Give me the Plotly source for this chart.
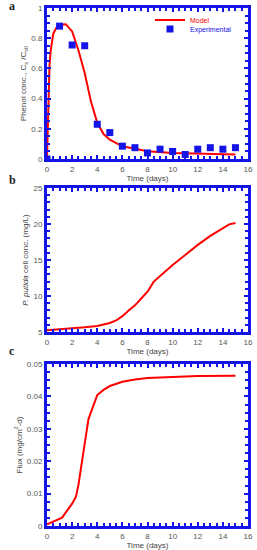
import plotly.graph_objects as go

# Panel a: phenol concentration
exp_t = [0, 1, 2, 3, 4, 5, 6, 7, 8, 9, 10, 11, 12, 13, 14, 15]
exp_c = [0.0, 0.88, 0.755, 0.75, 0.23, 0.175, 0.085, 0.075, 0.04, 0.065, 0.05, 0.03, 0.065, 0.075, 0.065, 0.075]
mod_t = [0, 0.1, 0.2, 0.3, 0.5, 0.75, 1, 1.5, 2, 2.5, 3, 3.5, 4, 4.5, 5, 6, 7, 8, 10, 12, 15]
mod_c = [0.0, 0.39, 0.62, 0.72, 0.83, 0.87, 0.89, 0.893, 0.845, 0.72, 0.57, 0.38, 0.24, 0.165, 0.128, 0.084, 0.066, 0.052, 0.04, 0.035, 0.029]

# Panel b: P. putida cell concentration
cell_t = [0, 2, 3, 4, 5, 5.5, 6, 6.5, 7, 7.5, 8, 8.5, 9, 10, 11, 12, 13, 14, 14.5, 15]
cell_c = [5.23, 5.47, 5.65, 5.84, 6.25, 6.6, 7.2, 8.0, 8.7, 9.65, 10.6, 12.0, 12.8, 14.3, 15.7, 17.1, 18.35, 19.5, 19.95, 20.15]

# Panel c: flux
flux_t = [0, 1.2, 2, 2.3, 2.5, 3, 3.3, 4, 4.5, 5, 6, 7, 8, 10, 12, 15]
flux_v = [0.0005, 0.0026, 0.0069, 0.009, 0.0126, 0.025, 0.033, 0.0404, 0.042, 0.0432, 0.0445, 0.0452, 0.0457, 0.046, 0.0463, 0.0464]

BLUE = "#1414e6"
RED = "#ff0000"
W, H = 257, 550

fig = go.Figure()
fig.add_trace(go.Scatter(x=mod_t, y=mod_c, mode="lines", line=dict(color=RED, width=2),
                         name="<span style='color:#ff0000'>Model</span>", xaxis="x", yaxis="y",
                         legend="legend"))
fig.add_trace(go.Scatter(x=exp_t, y=exp_c, mode="markers",
                         marker=dict(symbol="square", size=7, color=BLUE),
                         name="<span style='color:#1414e6'>Experimental</span>", xaxis="x", yaxis="y",
                         legend="legend2"))
fig.add_trace(go.Scatter(x=cell_t, y=cell_c, mode="lines", line=dict(color=RED, width=2),
                         showlegend=False, xaxis="x2", yaxis="y2"))
fig.add_trace(go.Scatter(x=flux_t, y=flux_v, mode="lines", line=dict(color=RED, width=2),
                         showlegend=False, xaxis="x3", yaxis="y3"))

xdom = [47 / W, 248 / W]
doms = [[1 - 159 / H, 1 - 8 / H], [1 - 332 / H, 1 - 188 / H], [1 - 526 / H, 1 - 364 / H]]

tickfont = dict(family="Liberation Sans, Arial", size=8, color="#555555")
titlefont = dict(family="Liberation Sans, Arial", size=8, color="#444444")
legfont = dict(family="Liberation Sans, Arial", size=7)

def xax(anchor):
    return dict(domain=xdom, anchor=anchor, range=[0, 16], dtick=2, tick0=0, automargin=False,
                showline=True, linecolor=BLUE, linewidth=3, mirror="allticks",
                ticks="inside", ticklen=4, tickwidth=2, tickcolor=BLUE,
                minor=dict(dtick=0.5, ticks="inside", ticklen=3, tickwidth=2, tickcolor=BLUE),
                showgrid=False, zeroline=False, tickfont=tickfont,
                title=dict(text="Time (days)", font=titlefont, standoff=2))

def yax(anchor, dom, rng, dt, mdt, title):
    return dict(domain=dom, anchor=anchor, range=rng, dtick=dt, tick0=rng[0], automargin=False,
                showline=True, linecolor=BLUE, linewidth=3, mirror="allticks",
                ticks="inside", ticklen=4, tickwidth=2, tickcolor=BLUE,
                minor=dict(dtick=mdt, ticks="inside", ticklen=3, tickwidth=2, tickcolor=BLUE),
                showgrid=False, zeroline=False, tickfont=tickfont,
                title=dict(text=title, font=titlefont, standoff=4))

fig.update_layout(
    width=W, height=H, margin=dict(l=0, r=0, t=0, b=0, autoexpand=False),
    paper_bgcolor="white", plot_bgcolor="white",
    xaxis=xax("y"), xaxis2=xax("y2"), xaxis3=xax("y3"),
    yaxis=yax("x", doms[0], [0, 1], 0.2, 0.05, "Phenol conc., C<sub>s</sub> /C<sub>s0</sub>"),
    yaxis2=yax("x2", doms[1], [5, 25], 5, 1, "<i>P. putida</i> cell conc. (mg/L)"),
    yaxis3=yax("x3", doms[2], [0, 0.05], 0.01, 0.0025, "Flux (mg/cm<sup>2</sup>-d)"),
    legend=dict(x=150 / W, y=1 - 20 / H, xanchor="left", yanchor="middle", bgcolor="rgba(0,0,0,0)",
                font=legfont, itemwidth=30, tracegroupgap=0),
    legend2=dict(x=150 / W, y=1 - 29 / H, xanchor="left", yanchor="middle", bgcolor="rgba(0,0,0,0)",
                 font=legfont, itemwidth=30, tracegroupgap=0),
    showlegend=True,
)

for txt, ypx in [("a", 6), ("b", 180), ("c", 351)]:
    fig.add_annotation(text="<b>%s</b>" % txt, x=12 / W, y=1 - ypx / H, xref="paper", yref="paper",
                       showarrow=False, font=dict(family="Liberation Serif, Times New Roman", size=12, color="#222222"),
                       xanchor="center", yanchor="middle")

fig.write_html("out.html", config={"displayModeBar": False},
               post_script="document.body.style.margin='0';document.body.style.overflow='hidden';")
